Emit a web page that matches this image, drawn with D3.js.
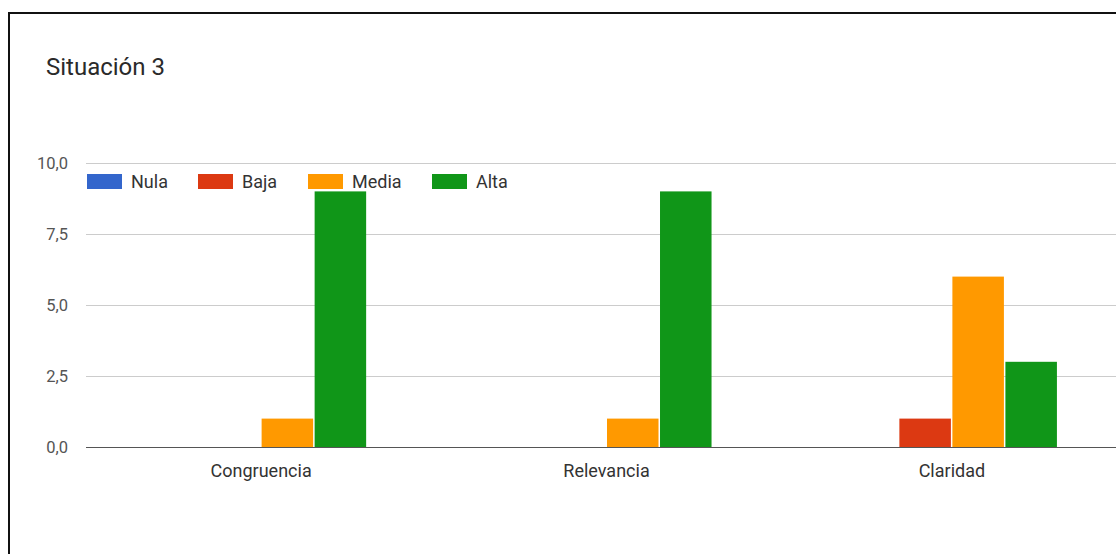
<!DOCTYPE html>
<html>
<head>
<meta charset="utf-8">
<script src="https://cdn.jsdelivr.net/npm/d3@7/dist/d3.min.js"></script>
<style>
  html, body { margin: 0; padding: 0; background: #fff; }
  svg { display: block; font-family: Roboto, "Liberation Sans", Arial, sans-serif; }
</style>
</head>
<body>
<svg id="chart" width="1116" height="554"></svg>
<script>
// Chart data
const categories = ["Congruencia", "Relevancia", "Claridad"];
const seriesNames = ["Nula", "Baja", "Media", "Alta"];
const nulaValues  = [0, 0, 0];
const bajaValues  = [0, 0, 1];
const mediaValues = [1, 1, 6];
const altaValues  = [9, 9, 3];
const yTicks = [0, 2.5, 5, 7.5, 10];
const yTickLabels = ["0,0", "2,5", "5,0", "7,5", "10,0"];
const seriesColors = ["#3366cc", "#dc3912", "#ff9900", "#109618"];

const seriesValues = [nulaValues, bajaValues, mediaValues, altaValues];
const rows = categories.map((c, i) => ({
  category: c,
  values: seriesNames.map((s, j) => ({ series: s, value: seriesValues[j][i] }))
}));

const svg = d3.select("#chart");
const W = 1116, H = 554;
const FONT = "Roboto, 'Liberation Sans', Arial, sans-serif";

// Frame
svg.append("line").attr("x1", 9).attr("x2", W).attr("y1", 13).attr("y2", 13)
  .attr("stroke", "#111").attr("stroke-width", 2);
svg.append("line").attr("x1", 9).attr("x2", 9).attr("y1", 12).attr("y2", H)
  .attr("stroke", "#111").attr("stroke-width", 2);

// Title
svg.append("text").attr("x", 46).attr("y", 75)
  .attr("font-size", 24).attr("fill", "#2a2a2a").text("Situación 3");

const plotLeft = 86, plotRight = 1127;
const y = d3.scaleLinear().domain([0, 10]).range([447, 163]);
const x0 = d3.scaleBand().domain(categories).range([plotLeft, plotRight])
  .paddingInner(0.386).paddingOuter(0.2);
const x1 = d3.scaleBand().domain(seriesNames).range([0, x0.bandwidth()]);

// Gridlines
const grid = svg.append("g");
grid.selectAll("line").data(yTicks.filter(t => t !== 0)).join("line")
  .attr("x1", plotLeft).attr("x2", W)
  .attr("y1", d => Math.round(y(d)) + 0.5).attr("y2", d => Math.round(y(d)) + 0.5)
  .attr("stroke", "#cccccc").attr("stroke-width", 1);

// Y axis labels
const yAxis = d3.axisLeft(y).tickValues(yTicks)
  .tickFormat((d, i) => yTickLabels[i]).tickSize(0).tickPadding(0);
const yg = svg.append("g").attr("transform", "translate(68,0)").call(yAxis);
yg.select(".domain").remove();
yg.selectAll("text").attr("font-size", 16.5).attr("fill", "#555")
  .attr("font-family", FONT);

// Bars
const groups = svg.append("g").selectAll("g").data(rows).join("g")
  .attr("transform", d => `translate(${x0(d.category)},0)`);
groups.selectAll("rect").data(d => d.values.filter(v => v.value > 0)).join("rect")
  .attr("x", d => x1(d.series) + 0.5)
  .attr("width", x1.bandwidth() - 1.5)
  .attr("y", d => y(d.value))
  .attr("height", d => y(0) - y(d.value))
  .attr("fill", d => seriesColors[seriesNames.indexOf(d.series)]);

// Baseline
svg.append("line").attr("x1", plotLeft).attr("x2", W)
  .attr("y1", 447.5).attr("y2", 447.5).attr("stroke", "#555").attr("stroke-width", 1.2);

// X axis labels
const xAxis = d3.axisBottom(x0).tickSize(0).tickPadding(0);
const xg = svg.append("g").attr("transform", "translate(0,477)").call(xAxis);
xg.select(".domain").remove();
xg.selectAll("text").attr("font-size", 18).attr("fill", "#333").attr("dy", 0)
  .attr("font-family", FONT);

// Legend
const legendX = [87, 198, 308, 432];
const legend = svg.append("g").selectAll("g").data(seriesNames).join("g")
  .attr("transform", (d, i) => `translate(${legendX[i]},174)`);
legend.append("rect").attr("width", 35).attr("height", 15)
  .attr("fill", (d, i) => seriesColors[i]);
legend.append("text").attr("x", 44).attr("y", 14)
  .attr("font-size", 18).attr("fill", "#333").text(d => d);
</script>
</body>
</html>
